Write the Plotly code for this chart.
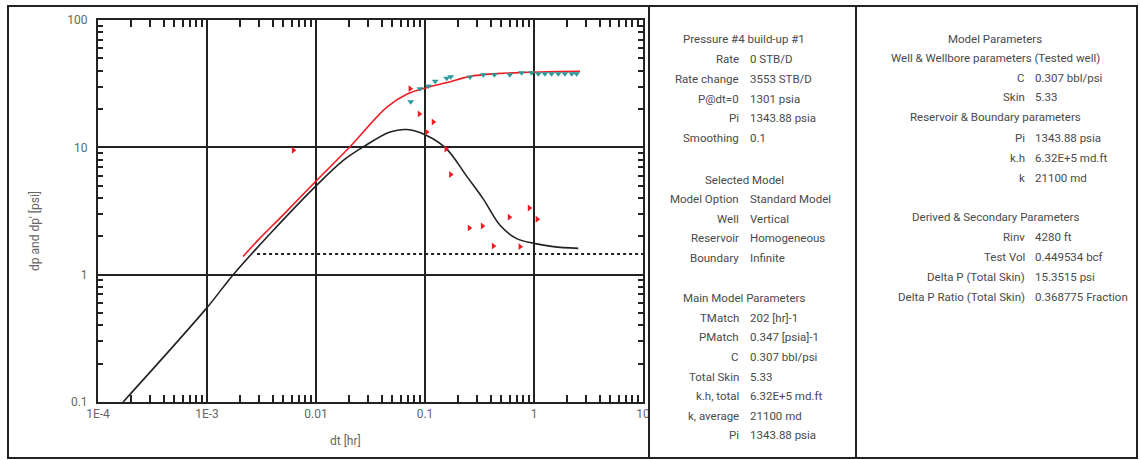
import plotly.graph_objects as go

# ---------------- data ----------------
dt_deriv_pts = [0.0062, 0.073, 0.0887, 0.1035, 0.119, 0.156, 0.172, 0.255, 0.336, 0.424, 0.594, 0.745, 0.906, 1.07]
dp_deriv_pts = [9.5, 28.9, 18.3, 13.2, 15.8, 9.7, 6.11, 2.33, 2.41, 1.68, 2.83, 1.66, 3.34, 2.72]

dt_press_pts = [0.074, 0.09, 0.107, 0.124, 0.158, 0.172, 0.259, 0.343, 0.433, 0.60, 0.77, 0.95,
                1.095, 1.26, 1.45, 1.67, 1.92, 2.22, 2.46]
dp_press_pts = [22.8, 28.9, 30.3, 33.1, 34.8, 35.8, 35.6, 37.2, 37.2, 37.2, 38.5, 38.5,
                37.9, 37.9, 37.9, 37.9, 37.9, 37.9, 37.9]

dt_model_p = [0.00214, 0.003, 0.005, 0.01, 0.0205, 0.0445, 0.068, 0.1035, 0.156, 0.259, 0.455, 0.74, 1.3, 2.64]
dp_model_p = [1.39, 1.9, 2.95, 5.43, 10.1, 20.6, 26.1, 29.4, 32.1, 36.1, 37.9, 38.6, 39.2, 39.5]

dt_model_d = [1.7e-4, 1e-3, 0.00174, 0.004, 0.01, 0.0178, 0.0272, 0.0478, 0.068, 0.1035, 0.156,
              0.241, 0.343, 0.488, 0.693, 1.0, 1.5, 2.55]
dp_model_d = [0.1, 0.551, 1.0, 2.2, 4.98, 7.9, 10.1, 13.2, 13.8, 12.4, 9.8,
              5.94, 3.92, 2.44, 1.92, 1.76, 1.66, 1.61]

dt_iarf = [0.00288, 10]
dp_iarf = [1.45, 1.45]

x_tickvals = [1e-4, 1e-3, 1e-2, 1e-1, 1, 10]
x_ticktext = ["1E-4", "1E-3", "0.01", "0.1", "1", "10"]
y_tickvals = [0.1, 1, 10, 100]
y_ticktext = ["0.1", "1", "10", "100"]

panel1 = [
    ("head", "Pressure #4 build-up #1", 39),
    ("row", "Rate", "0 STB/D", 59),
    ("row", "Rate change", "3553 STB/D", 79),
    ("row", "P@dt=0", "1301 psia", 99),
    ("row", "Pi", "1343.88 psia", 118),
    ("row", "Smoothing", "0.1", 138),
    ("head", "Selected Model", 180),
    ("row", "Model Option", "Standard Model", 199),
    ("row", "Well", "Vertical", 219),
    ("row", "Reservoir", "Homogeneous", 238),
    ("row", "Boundary", "Infinite", 258),
    ("head", "Main Model Parameters", 298),
    ("row", "TMatch", "202 [hr]-1", 318),
    ("row", "PMatch", "0.347 [psia]-1", 337),
    ("row", "C", "0.307 bbl/psi", 357),
    ("row", "Total Skin", "5.33", 377),
    ("row", "k.h, total", "6.32E+5 md.ft", 396),
    ("row", "k, average", "21100 md", 416),
    ("row", "Pi", "1343.88 psia", 435),
]
panel2 = [
    ("head", "Model Parameters", 39),
    ("head", "Well & Wellbore parameters (Tested well)", 58),
    ("row", "C", "0.307 bbl/psi", 78),
    ("row", "Skin", "5.33", 97),
    ("head", "Reservoir & Boundary parameters", 117),
    ("row", "Pi", "1343.88 psia", 138),
    ("row", "k.h", "6.32E+5 md.ft", 158),
    ("row", "k", "21100 md", 178),
    ("head", "Derived & Secondary Parameters", 217),
    ("row", "Rinv", "4280 ft", 237),
    ("row", "Test Vol", "0.449534 bcf", 257),
    ("row", "Delta P (Total Skin)", "15.3515 psi", 277),
    ("row", "Delta P Ratio (Total Skin)", "0.368775 Fraction", 297),
]

# ---------------- layout geometry (pixels) ----------------
W, H = 1140, 460
L, R, T, B = 98, 643, 20, 402


def px(x):
    return (x - L) / (R - L)


def py(y):
    return (B - y) / (B - T)


def minor_vals(d0, d1):
    vals = []
    for e in range(d0, d1):
        for m in range(2, 10):
            vals.append(m * 10 ** e)
    return vals


FONT = "Roboto"
TXT = "#4a4a4a"
LINE = "#222222"

fig = go.Figure()

fig.add_trace(go.Scatter(x=dt_iarf, y=dp_iarf, mode="lines",
                         line=dict(color=LINE, width=2, dash="dot"), hoverinfo="skip"))
fig.add_trace(go.Scatter(x=dt_model_d, y=dp_model_d, mode="lines", line_shape="spline",
                         line=dict(color=LINE, width=1.6)))
fig.add_trace(go.Scatter(x=dt_model_p, y=dp_model_p, mode="lines", line_shape="spline",
                         line=dict(color="#ee1c25", width=1.6)))
fig.add_trace(go.Scatter(x=dt_press_pts, y=dp_press_pts, mode="markers",
                         marker=dict(symbol="triangle-down", size=6, color="#2a9a9a")))
fig.add_trace(go.Scatter(x=dt_deriv_pts, y=dp_deriv_pts, mode="markers",
                         marker=dict(symbol="triangle-right", size=6, color="#ee1c25")))
# invisible trace that carries the mirrored (top/right) axes with their minor ticks
fig.add_trace(go.Scatter(x=[1], y=[1], xaxis="x2", yaxis="y2", mode="markers",
                         marker=dict(opacity=0, size=1), hoverinfo="skip"))

axis_common = dict(
    showline=True, linecolor=LINE, linewidth=2, mirror=True,
    showgrid=True, gridcolor=LINE, gridwidth=1.6,
    zeroline=False, ticks="",
    tickfont=dict(family=FONT, size=12, color="#666666"),
)

x_minor = dict(tickmode="array", tickvals=minor_vals(-4, 1), ticks="inside",
               ticklen=7, tickcolor=LINE, tickwidth=1.5, showgrid=False)
y_minor = dict(tickmode="array", tickvals=minor_vals(-1, 2), ticks="inside",
               ticklen=5, tickcolor=LINE, tickwidth=1.5, showgrid=False)

fig.update_layout(
    xaxis=dict(type="log", range=[-4, 1], tickmode="array",
               tickvals=x_tickvals, ticktext=x_ticktext, minor=x_minor, **axis_common),
    yaxis=dict(type="log", range=[-1, 2], tickmode="array",
               tickvals=y_tickvals, ticktext=y_ticktext, ticklabelstandoff=6,
               minor=y_minor, **axis_common),
    xaxis2=dict(type="log", range=[-4, 1], overlaying="x", side="top", anchor="y2",
                showticklabels=False, showgrid=False, zeroline=False, ticks="inside",
                ticklen=0.1, tickcolor="rgba(0,0,0,0)",
                tickmode="array", tickvals=x_tickvals, minor=x_minor, showline=False),
    yaxis2=dict(type="log", range=[-1, 2], overlaying="y", side="right", anchor="x2",
                showticklabels=False, showgrid=False, zeroline=False, ticks="inside",
                ticklen=0.1, tickcolor="rgba(0,0,0,0)",
                tickmode="array", tickvals=y_tickvals, minor=y_minor, showline=False),
)

annotations = []
annotations.append(dict(x=px(345), y=py(441), xref="paper", yref="paper", text="dt [hr]",
                        showarrow=False, font=dict(family=FONT, size=12, color="#666666"),
                        xanchor="center", yanchor="middle"))
annotations.append(dict(x=px(35), y=py(231), xref="paper", yref="paper", text="dp and dp' [psi]",
                        showarrow=False, textangle=-90,
                        font=dict(family=FONT, size=12, color="#666666"),
                        xanchor="center", yanchor="middle"))

FS = 11.5


def add_panel(items, head_x, lab_x, val_x):
    for it in items:
        if it[0] == "head":
            annotations.append(dict(x=px(head_x), y=py(it[2]), xref="paper", yref="paper",
                                    text=it[1], showarrow=False, xanchor="center", yanchor="middle",
                                    font=dict(family=FONT, size=FS, color=TXT)))
        else:
            annotations.append(dict(x=px(lab_x), y=py(it[3]), xref="paper", yref="paper",
                                    text=it[1], showarrow=False, xanchor="right", yanchor="middle",
                                    font=dict(family=FONT, size=FS, color=TXT)))
            annotations.append(dict(x=px(val_x), y=py(it[3]), xref="paper", yref="paper",
                                    text=it[2], showarrow=False, xanchor="left", yanchor="middle",
                                    font=dict(family=FONT, size=FS, color=TXT)))


add_panel(panel1, 744, 741, 748)
add_panel(panel2, 995, 1027, 1033)

shapes = [
    dict(type="rect", xref="paper", yref="paper", x0=px(8), x1=px(1137), y0=py(458), y1=py(6),
         line=dict(color=LINE, width=2)),
    dict(type="line", xref="paper", yref="paper", x0=px(649), x1=px(649), y0=py(458), y1=py(6),
         line=dict(color=LINE, width=2)),
    dict(type="line", xref="paper", yref="paper", x0=px(856), x1=px(856), y0=py(458), y1=py(6),
         line=dict(color=LINE, width=2)),
]

fig.update_layout(
    width=W, height=H,
    margin=dict(l=L, r=W - R, t=T, b=H - B),
    paper_bgcolor="white", plot_bgcolor="white",
    showlegend=False,
    annotations=annotations,
    shapes=shapes,
    font=dict(family=FONT),
)

fig.write_html("out.html", config={"displayModeBar": False},
               post_script="document.body.style.margin='0px';document.body.style.padding='0px';")
